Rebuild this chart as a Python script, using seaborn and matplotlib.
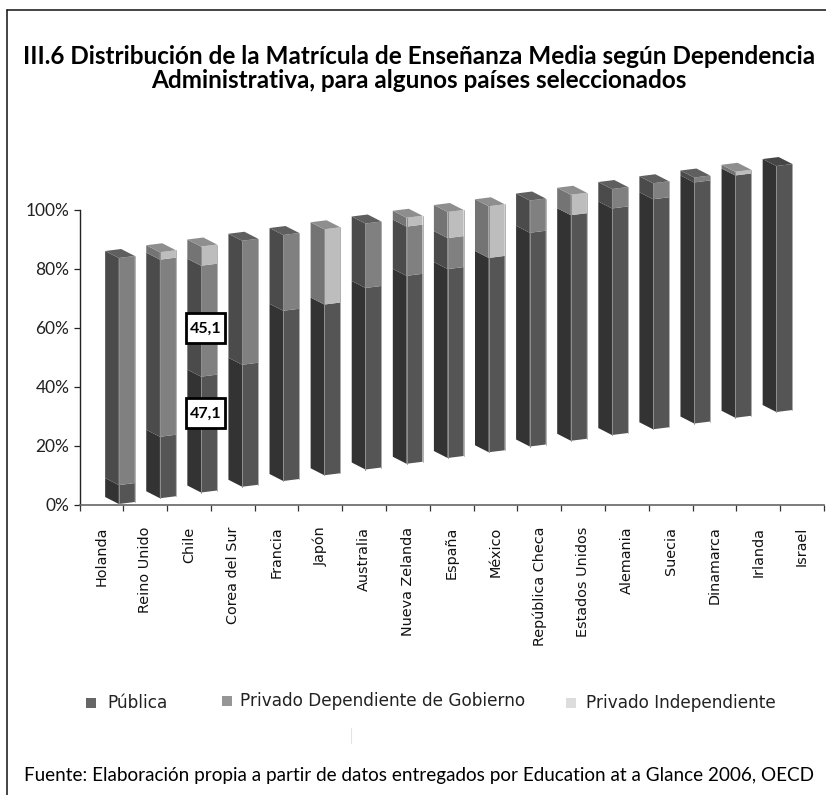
import numpy as np
import matplotlib
matplotlib.use('Agg')
import matplotlib.pyplot as plt
import seaborn as sns
from matplotlib.lines import Line2D
from matplotlib.patches import Polygon, Rectangle

W, H = 826, 795

paises = ['Holanda', 'Reino Unido', 'Chile', 'Corea del Sur', 'Francia', 'Japón', 'Australia',
          'Nueva Zelanda', 'España', 'México', 'República Checa', 'Estados Unidos', 'Alemania',
          'Suecia', 'Dinamarca', 'Irlanda', 'Israel']
publica = [7.7, 25.0, 47.1, 49.6, 69.2, 69.4, 73.8, 76.4, 76.8, 79.0, 86.9, 91.7, 92.1, 93.5, 98.0, 98.5, 100.0]
dependiente = [92.3, 72.0, 45.1, 50.4, 30.8, 0.0, 26.2, 20.0, 12.6, 0.0, 13.1, 0.0, 7.9, 6.5, 2.0, 0.0, 0.0]
independiente = [0.0, 3.0, 7.8, 0.0, 0.0, 30.6, 0.0, 3.6, 10.6, 21.0, 0.0, 8.3, 0.0, 0.0, 0.0, 1.5, 0.0]
y_ticks = [0, 20, 40, 60, 80, 100]

series = [publica, dependiente, independiente]
nombres = ['Pública', 'Privado Dependiente de Gobierno', 'Privado Independiente']
# caras de cada barra: izquierda, derecha, tapa
caras = [('#333333', '#555555', '#464646'),
         ('#4b4b4b', '#808080', '#5f5f5f'),
         ('#747474', '#bdbdbd', '#8e8e8e')]
leyenda_col = ['#666666', '#969696', '#dddddd']

# pixeles por unidad de los ejes
PX_X = 43.8
PX_Y = 2.945
ESCALA = 246 / (100 * PX_Y)  # la perspectiva acorta las barras

sns.set_theme(style='white')
plt.rcParams['font.family'] = ['Lato', 'DejaVu Sans']

fig = plt.figure(figsize=(W / 100, H / 100), dpi=100)
ax = fig.add_axes([79.5 / W, (H - 504.5) / H, (824 - 79.5) / W, 294.5 / H])

# barras apiladas con seaborn, luego se convierten en prismas
base = np.array([0.17 + 1.952 * i for i in range(len(paises))])
acum = np.zeros(len(paises))
limites = []
for k, valores in enumerate(series):
    v = np.array(valores)
    sns.barplot(x=paises, y=v * ESCALA, bottom=base + acum * ESCALA, color=caras[k][1],
                width=29.7 / PX_X, errorbar=None, ax=ax)
    limites.append(acum.copy())
    acum = acum + v

ax.set_xlim(-0.5, 16.5)
ax.set_ylim(0, 100)

parches = list(ax.patches)
n = len(paises)
for j, p in enumerate(parches):
    k, i = j // n, j % n
    alto = p.get_height()
    x_izq = p.get_x() + (18.6 - 2.7 * i) / PX_X
    y0 = p.get_y()
    y1 = y0 + alto
    p.remove()
    if alto <= 0:
        continue
    x_c = x_izq + 13.7 / PX_X
    x_d = x_izq + 29.7 / PX_X
    dy_i, dy_d = 7 / PX_Y, 2 / PX_Y
    izq, der, tapa = caras[k]
    ax.add_patch(Polygon([(x_izq, y0 + dy_i), (x_c, y0), (x_c, y1), (x_izq, y1 + dy_i)],
                         fc=izq, ec='none', clip_on=False, zorder=3))
    ax.add_patch(Polygon([(x_c, y0), (x_d, y0 + dy_d), (x_d, y1 + dy_d), (x_c, y1)],
                         fc=der, ec='none', clip_on=False, zorder=3))
    ax.plot([x_c, x_c], [y0, y1], color='#8f8f8f', lw=0.7, clip_on=False, zorder=4)
    ax.plot([x_d, x_d], [y0 + dy_d, y1 + dy_d], color='#a5a5a5', lw=0.6, clip_on=False, zorder=4)
    if limites[k][i] + series[k][i] >= 99.9:
        x_b = x_c + 2.3 / PX_X
        ax.add_patch(Polygon([(x_izq, y1 + dy_i), (x_c, y1), (x_d, y1 + dy_d), (x_b, y1 + 9 / PX_Y)],
                             fc=tapa, ec='none', clip_on=False, zorder=3))

# etiquetas de Chile
caja_w, caja_h = 39 / PX_X, 30 / PX_Y
for y_txt, val in [(59.8, dependiente[2]), (30.9, publica[2])]:
    x_txt = 2 + 16.5 / PX_X
    ax.add_patch(Rectangle((x_txt - caja_w / 2, y_txt - caja_h / 2), caja_w, caja_h, fc='white',
                           ec='black', lw=2.0, clip_on=False, zorder=6))
    ax.text(x_txt, y_txt, f'{val:.1f}'.replace('.', ','), ha='center', va='center',
            fontsize=11.5, fontweight='bold', color='black', zorder=7)

# ejes
sns.despine(ax=ax, top=True, right=True)
ax.spines['left'].set_color('#222222')
ax.spines['left'].set_linewidth(1.0)
ax.spines['bottom'].set_color('#666666')
ax.spines['bottom'].set_linewidth(1.2)
ax.set_yticks(y_ticks)
ax.set_yticklabels([f'{t}%' for t in y_ticks], fontsize=12.5, color='#222222')
ax.tick_params(axis='y', length=4.3, width=0.9, color='#222222', pad=3, left=True)
ax.set_xticks(range(n))
ax.set_xticklabels(paises, rotation=90, ha='center', va='top', fontsize=10.4,
                   family='DejaVu Sans', color='#111111')
ax.set_xticks(np.arange(-0.5, n, 1), minor=True)
ax.tick_params(axis='x', which='major', length=0, pad=16, bottom=False)
ax.tick_params(axis='x', which='minor', length=4.3, width=0.9, color='#333333', bottom=True)
ax.set_xlabel('')
ax.set_ylabel('')
ax.patch.set_alpha(0)


def fx(x):
    return x / W


def fy(y):
    return 1 - y / H


# marco
fig.add_artist(Line2D([fx(7.5), fx(7.5)], [fy(10), 0], color='#111111', lw=1.1))
fig.add_artist(Line2D([fx(7.5), 1], [fy(10), fy(10)], color='#111111', lw=1.1))
fig.add_artist(Line2D([fx(350.5), fx(350.5)], [fy(728), fy(743)], color='#e4e4e4', lw=0.8))

# titulo y fuente
fig.text(fx(419), fy(57), 'III.6 Distribución de la Matrícula de Enseñanza Media según Dependencia',
         ha='center', va='center', fontsize=17.5, fontweight='bold', color='black')
fig.text(fx(419), fy(81), 'Administrativa, para algunos países seleccionados',
         ha='center', va='center', fontsize=17.5, fontweight='bold', color='black')
fig.text(fx(24), fy(775), 'Fuente: Elaboración propia a partir de datos entregados por Education at a Glance 2006, OECD',
         ha='left', va='center', fontsize=13.6, color='black')

# leyenda
for nombre, col, x_cuad, x_txt, y_txt in zip(nombres, leyenda_col, [86, 222, 566], [107, 240, 586], [703, 701, 703]):
    fig.add_artist(Rectangle((fx(x_cuad), fy(y_txt + 5)), 10 / W, 10 / H, transform=fig.transFigure,
                             fc=col, ec='none'))
    fig.text(fx(x_txt), fy(y_txt), nombre, ha='left', va='center', fontsize=12.2,
             family='DejaVu Sans', color='#222222')

fig.savefig('out.png', dpi=100)
